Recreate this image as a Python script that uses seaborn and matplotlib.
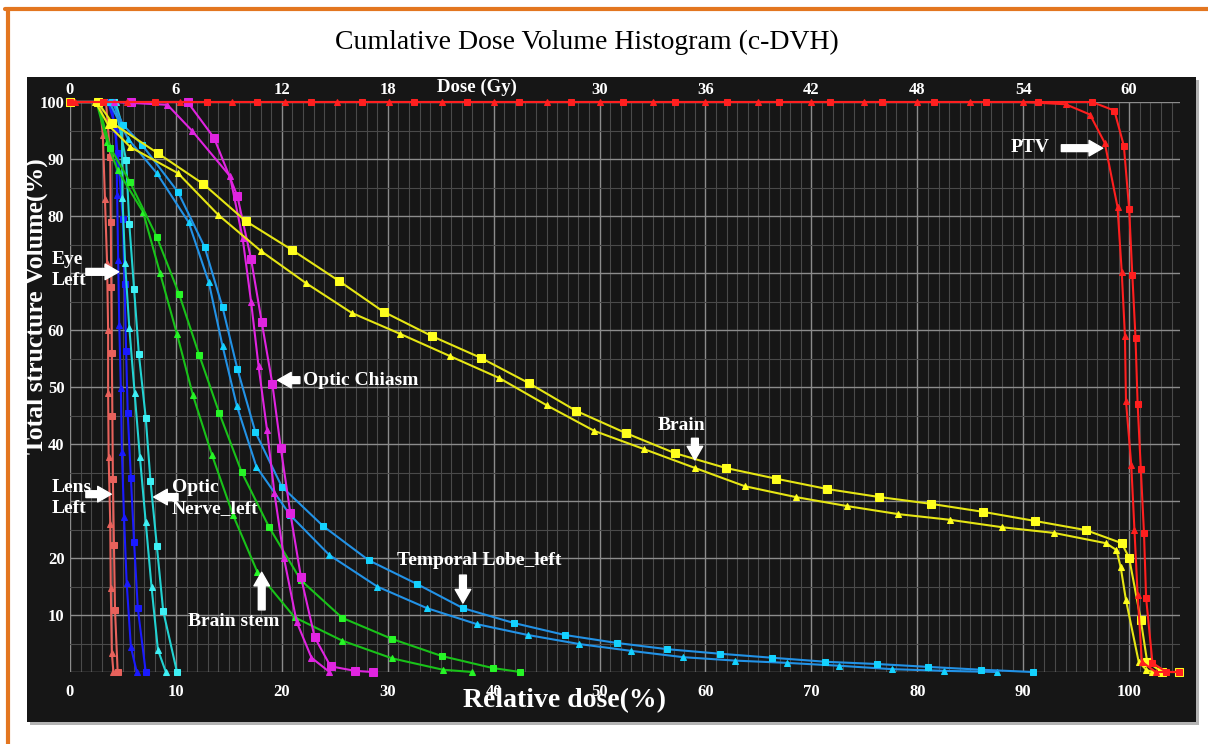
import numpy as np
import seaborn as sns
import matplotlib.pyplot as plt
from matplotlib.patches import Rectangle
from matplotlib.lines import Line2D

sns.set_theme(style="dark")
plt.rcParams['font.family'] = ['Liberation Serif', 'DejaVu Serif']

# ---- data (relative dose %, volume %) ----
# two plans per structure: "sq" = square markers, "tri" = triangle markers
lens_sq_x = [0, 3.4, 3.8, 3.85, 3.9, 3.95, 4.0, 4.05, 4.15, 4.25, 4.5]
lens_sq_y = [100, 100, 90.4, 79, 67.6, 56, 45, 33.8, 22.3, 10.9, 0]
lens_tri_x = [0, 2.8, 3.1, 3.3, 3.5, 3.6, 3.6, 3.65, 3.8, 3.85, 3.95, 4.1]
lens_tri_y = [100, 100, 94.2, 83, 71.8, 60, 49, 37.7, 26, 14.7, 3.3, 0]

eye_sq_x = [0, 3.9, 4.5, 5.0, 5.15, 5.3, 5.45, 5.75, 6.05, 6.4, 7.15]
eye_sq_y = [100, 100, 91, 79.5, 68, 56.3, 45.4, 34, 22.8, 11.2, 0]
eye_tri_x = [0, 3.6, 4.35, 4.45, 4.55, 4.65, 4.8, 4.9, 5.1, 5.35, 5.75, 6.3]
eye_tri_y = [100, 100, 95.3, 83.7, 72.3, 60.9, 49.8, 38.6, 27.2, 15.6, 4.4, 0]

nerve_sq_x = [0, 4.2, 5.3, 5.6, 6.05, 6.5, 7.15, 7.6, 8.2, 8.8, 10.1]
nerve_sq_y = [100, 100, 89.8, 78.6, 67.2, 55.8, 44.6, 33.5, 22.1, 10.7, 0]
nerve_tri_x = [0, 4.3, 4.9, 4.95, 5.2, 5.6, 6.1, 6.6, 7.15, 7.7, 8.3, 9.05]
nerve_tri_y = [100, 100, 96, 83.2, 71.8, 60.4, 49, 37.7, 26.3, 14.9, 3.9, 0]

stem_sq_x = [0, 2.6, 3.8, 5.65, 8.2, 10.3, 12.2, 14.1, 16.2, 18.8, 21.8, 25.7, 30.4, 35.1, 39.9, 42.5]
stem_sq_y = [100, 100, 92, 86, 76.3, 66.3, 55.6, 45.4, 35.1, 25.4, 16.1, 9.5, 5.8, 2.8, 0.7, 0]
stem_tri_x = [0, 2.5, 3.5, 4.5, 6.9, 8.5, 10.1, 11.6, 13.4, 15.4, 17.7, 21.2, 25.7, 30.4, 35.2, 38.0]
stem_tri_y = [100, 100, 93, 88, 80.7, 70, 59.3, 48.6, 38.1, 27.5, 17.5, 9.6, 5.5, 2.4, 0.4, 0]

temporal_sq_x = [0, 4.0, 5.0, 6.8, 10.2, 12.7, 14.4, 15.8, 17.5, 20.0, 23.9, 28.2, 32.8, 37.1,
                 41.9, 46.7, 51.6, 56.4, 61.4, 66.3, 71.3, 76.2, 81.0, 86.0, 90.9]
temporal_sq_y = [100, 100, 96, 92.5, 84.2, 74.6, 64, 53.2, 42.1, 32.5, 25.6, 19.6, 15.4, 11.2,
                 8.6, 6.5, 5.1, 4.0, 3.2, 2.5, 1.8, 1.4, 0.9, 0.4, 0]
temporal_tri_x = [0, 3.7, 5.5, 8.2, 11.2, 13.1, 14.4, 15.75, 17.6, 20.8, 24.5, 29.0, 33.7, 38.4,
                  43.2, 48.1, 53.0, 57.9, 62.8, 67.7, 72.6, 77.6, 82.5, 87.5]
temporal_tri_y = [100, 100, 93.5, 87.5, 78.9, 68.4, 57.2, 46.7, 36.0, 27.5, 20.5, 15.0, 11.2, 8.4,
                  6.5, 4.9, 3.7, 2.6, 2.0, 1.6, 1.1, 0.5, 0.2, 0]

chiasm_sq_x = [0, 5.8, 11.1, 13.6, 15.8, 17.1, 18.1, 19.1, 19.9, 20.8, 21.8, 23.1, 24.6, 26.9, 28.6]
chiasm_sq_y = [100, 100, 100, 93.7, 83.5, 72.4, 61.4, 50.6, 39.3, 27.9, 16.7, 6.1, 1.0, 0.2, 0]
chiasm_tri_x = [0, 4.2, 9.2, 11.5, 15.1, 16.3, 17.1, 17.8, 18.6, 19.3, 20.2, 21.4, 22.8, 24.5]
chiasm_tri_y = [100, 100, 99.5, 95, 87, 76.1, 64.9, 53.7, 42.5, 31.4, 20, 8.8, 2.5, 0]

brain_sq_x = [0, 2.6, 4.0, 8.3, 12.6, 16.6, 21.0, 25.4, 29.6, 34.2, 38.8, 43.3, 47.8, 52.5, 57.1,
              61.9, 66.7, 71.5, 76.4, 81.3, 86.2, 91.1, 95.9, 99.3, 100.0, 101.1, 101.7, 103.1, 104.7]
brain_sq_y = [100, 100, 96.3, 91, 85.6, 79.1, 74, 68.6, 63.2, 58.9, 55.1, 50.7, 45.8, 41.9, 38.4,
              35.8, 33.9, 32.1, 30.7, 29.5, 28.1, 26.5, 24.9, 22.6, 20, 9.1, 1.8, 0, 0]
brain_tri_x = [0, 2.4, 3.6, 5.7, 10.2, 14.0, 18.0, 22.3, 26.6, 31.2, 35.9, 40.5, 45.0, 49.5, 54.2,
               59.0, 63.7, 68.5, 73.4, 78.2, 83.1, 88.0, 92.9, 97.8, 98.8, 99.2, 99.7, 100.9, 101.6, 102.2]
brain_tri_y = [100, 100, 96, 92.1, 87.5, 80.2, 73.9, 68.2, 63, 59.3, 55.4, 51.6, 46.8, 42.3, 39.1,
               35.8, 32.6, 30.7, 29.1, 27.7, 26.7, 25.4, 24.4, 22.6, 21.4, 18.4, 12.6, 1.8, 0.4, 0]

ptv_sq_x = [0, 3.1, 8.0, 12.9, 17.7, 22.8, 27.6, 32.5, 37.5, 42.4, 47.3, 52.2, 57.1, 62.0, 66.9,
            71.8, 76.7, 81.6, 86.5, 91.4, 96.5, 98.6, 99.5, 100.0, 100.3, 100.6, 100.8, 101.1,
            101.4, 101.6, 102.2, 103.5, 104.7]
ptv_sq_y = [100, 100, 100, 100, 100, 100, 100, 100, 100, 100, 100, 100, 100, 100, 100,
            100, 100, 100, 100, 100, 100, 98.5, 92.3, 81.2, 69.6, 58.6, 47.0, 35.6,
            24.4, 13.0, 1.6, 0, 0]
ptv_tri_x = [0.5, 5.4, 10.4, 15.3, 20.3, 25.2, 30.1, 35.1, 40.0, 45.0, 50.0, 55.0, 60.0, 65.0,
             70.0, 75.0, 80.0, 85.0, 90.0, 94.0, 96.3, 97.7, 98.9, 99.3, 99.6, 99.7, 100.2,
             100.5, 100.8, 101.2, 102.5, 104.7]
ptv_tri_y = [100, 100, 100, 100, 100, 100, 100, 100, 100, 100, 100, 100, 100, 100,
             100, 100, 100, 100, 100, 99.6, 97.8, 92.8, 81.6, 70.2, 59.0, 47.5, 36.3,
             24.9, 13.5, 1.8, 0, 0]

pct_ticks = [0, 10, 20, 30, 40, 50, 60, 70, 80, 90, 100]
vol_ticks = [0, 10, 20, 30, 40, 50, 60, 70, 80, 90, 100]
vol_labels = ['', '10', '20', '', '40', '50', '60', '', '80', '90', '100']
gy_ticks = [0, 6, 12, 18, 30, 36, 42, 48, 54, 60]

W, H = 1208, 744
fig = plt.figure(figsize=(W / 100, H / 100), dpi=100)
fig.patch.set_facecolor('white')

# dark panel with a light shadow
fig.add_artist(Rectangle((30 / W, 19 / H), 1169 / W, 645 / H, transform=fig.transFigure,
                         facecolor='#b4b4b4', edgecolor='none', zorder=-2))
fig.add_artist(Rectangle((27 / W, 22 / H), 1169 / W, 645 / H, transform=fig.transFigure,
                         facecolor='#161616', edgecolor='none', zorder=-1))
# orange frame
fig.add_artist(Line2D([5 / W, 1], [1 - 9 / H, 1 - 9 / H], color='#e37620', lw=3,
                      transform=fig.transFigure))
fig.add_artist(Line2D([8 / W, 8 / W], [0, 1 - 9 / H], color='#e37620', lw=3,
                      transform=fig.transFigure))

ax = fig.add_axes([70 / W, 72 / H, 1110 / W, 570 / H])
ax.set_facecolor('#161616')


def draw(xs, ys, color, marker, ms, mcolor=None):
    mcolor = mcolor or color
    sns.lineplot(x=xs, y=ys, ax=ax, color=color, marker=marker, markersize=ms,
                 markerfacecolor=mcolor, markeredgecolor=mcolor, lw=1.5,
                 sort=False, estimator=None, legend=False, clip_on=False)


draw(lens_tri_x, lens_tri_y, '#e8625c', '^', 4.5)
draw(lens_sq_x, lens_sq_y, '#e8625c', 's', 5)
draw(eye_tri_x, eye_tri_y, '#1a1aff', '^', 4.5)
draw(eye_sq_x, eye_sq_y, '#1a1aff', 's', 5)
draw(nerve_tri_x, nerve_tri_y, '#22d3d3', '^', 4.5, '#3ff0f5')
draw(nerve_sq_x, nerve_sq_y, '#22d3d3', 's', 5, '#3ff0f5')
draw(stem_tri_x, stem_tri_y, '#19c219', '^', 4.5, '#27f527')
draw(stem_sq_x, stem_sq_y, '#19c219', 's', 5, '#27f527')
draw(temporal_tri_x, temporal_tri_y, '#2292e6', '^', 4.5, '#14d2ff')
draw(temporal_sq_x, temporal_sq_y, '#2292e6', 's', 5, '#14d2ff')
draw(chiasm_tri_x, chiasm_tri_y, '#e024e0', '^', 4.5)
draw(chiasm_sq_x, chiasm_sq_y, '#e024e0', 's', 5.5)
draw(brain_tri_x, brain_tri_y, '#e6e614', '^', 4.5, '#ffff1e')
draw(brain_sq_x, brain_sq_y, '#e6e614', 's', 5.5, '#ffff1e')
draw(ptv_tri_x, ptv_tri_y, '#ff1f1f', '^', 4.5)
draw(ptv_sq_x, ptv_sq_y, '#ff1f1f', 's', 5)

# axes, grid and ticks
ax.set_xlim(0, 104.8)
ax.set_ylim(0, 100)
ax.set_xticks(pct_ticks)
ax.set_xticklabels([str(t) for t in pct_ticks])
ax.set_xticks(np.arange(0, 105, 1), minor=True)
ax.set_yticks(vol_ticks)
ax.set_yticklabels(vol_labels)
ax.set_yticks(np.arange(0, 101, 5), minor=True)
ax.grid(which='major', color='#8c8c8c', lw=1.0)
ax.grid(which='minor', color='#4a4a4a', lw=0.8)
ax.set_axisbelow(True)
for s in ax.spines.values():
    s.set_visible(False)
ax.tick_params(axis='both', which='both', length=0, colors='white', labelsize=12)
ax.tick_params(axis='x', pad=9)
ax.tick_params(axis='y', pad=4)
for lab in ax.get_xticklabels() + ax.get_yticklabels():
    lab.set_fontweight('bold')

secax = ax.secondary_xaxis('top', functions=(lambda p: p * 0.6, lambda g: g / 0.6))
secax.set_xticks(gy_ticks)
secax.set_xticklabels([str(g) for g in gy_ticks])
secax.tick_params(length=0, pad=3, colors='white', labelsize=12)
for lab in secax.get_xticklabels():
    lab.set_fontweight('bold')
for s in secax.spines.values():
    s.set_visible(False)
ax.text(38.4, 102.5, 'Dose (Gy)', ha='center', va='center', color='white',
        fontsize=13.5, fontweight='bold', clip_on=False)

ax.set_xlabel('Relative dose(%)', fontsize=20, fontweight='bold', color='white')
ax.xaxis.set_label_coords(0.4455, -0.028)
ax.set_ylabel('Total structure Volume(%)', fontsize=18.5, fontweight='bold', color='white')
ax.yaxis.set_label_coords(-0.02, 0.642)

fig.text(587 / W, 1 - 42 / H, 'Cumlative Dose Volume Histogram (c-DVH)', ha='center',
         va='center', fontsize=20, color='black')

# structure labels with white arrows
arrow = dict(arrowstyle='simple,head_length=0.7,head_width=0.8,tail_width=0.35',
             fc='white', ec='white', shrinkA=0, shrinkB=0, mutation_scale=14)
txt = dict(color='white', fontsize=14, fontweight='bold', va='center', clip_on=False)

ax.text(92.5, 92.1, 'PTV', ha='right', **txt)
ax.annotate('', xy=(97.5, 91.9), xytext=(93.6, 91.9), arrowprops=arrow)

ax.text(-1.7, 70.5, 'Eye\nLeft', ha='left', linespacing=1.35, **txt)
ax.annotate('', xy=(4.6, 70.2), xytext=(1.5, 70.2), arrowprops=arrow)

ax.text(-1.7, 30.5, 'Lens\nLeft', ha='left', linespacing=1.35, **txt)
ax.annotate('', xy=(3.9, 31.2), xytext=(1.5, 31.2), arrowprops=arrow)

ax.text(9.6, 30.5, 'Optic\nNerve_left', ha='left', linespacing=1.35, **txt)
ax.annotate('', xy=(7.9, 30.7), xytext=(10.2, 30.7), arrowprops=arrow)

ax.text(22.0, 51.2, 'Optic Chiasm', ha='left', **txt)
ax.annotate('', xy=(19.6, 51.2), xytext=(21.7, 51.2), arrowprops=arrow)

ax.text(57.7, 43.3, 'Brain', ha='center', **txt)
ax.annotate('', xy=(59.0, 37.2), xytext=(59.0, 41.0), arrowprops=arrow)

ax.text(30.9, 19.6, 'Temporal Lobe_left', ha='left', **txt)
ax.annotate('', xy=(37.1, 12.1), xytext=(37.1, 17.0), arrowprops=arrow)

ax.text(11.1, 8.8, 'Brain stem', ha='left', **txt)
ax.annotate('', xy=(18.1, 17.5), xytext=(18.1, 10.9), arrowprops=arrow)

plt.savefig('out.png', dpi=100, facecolor=fig.get_facecolor())
